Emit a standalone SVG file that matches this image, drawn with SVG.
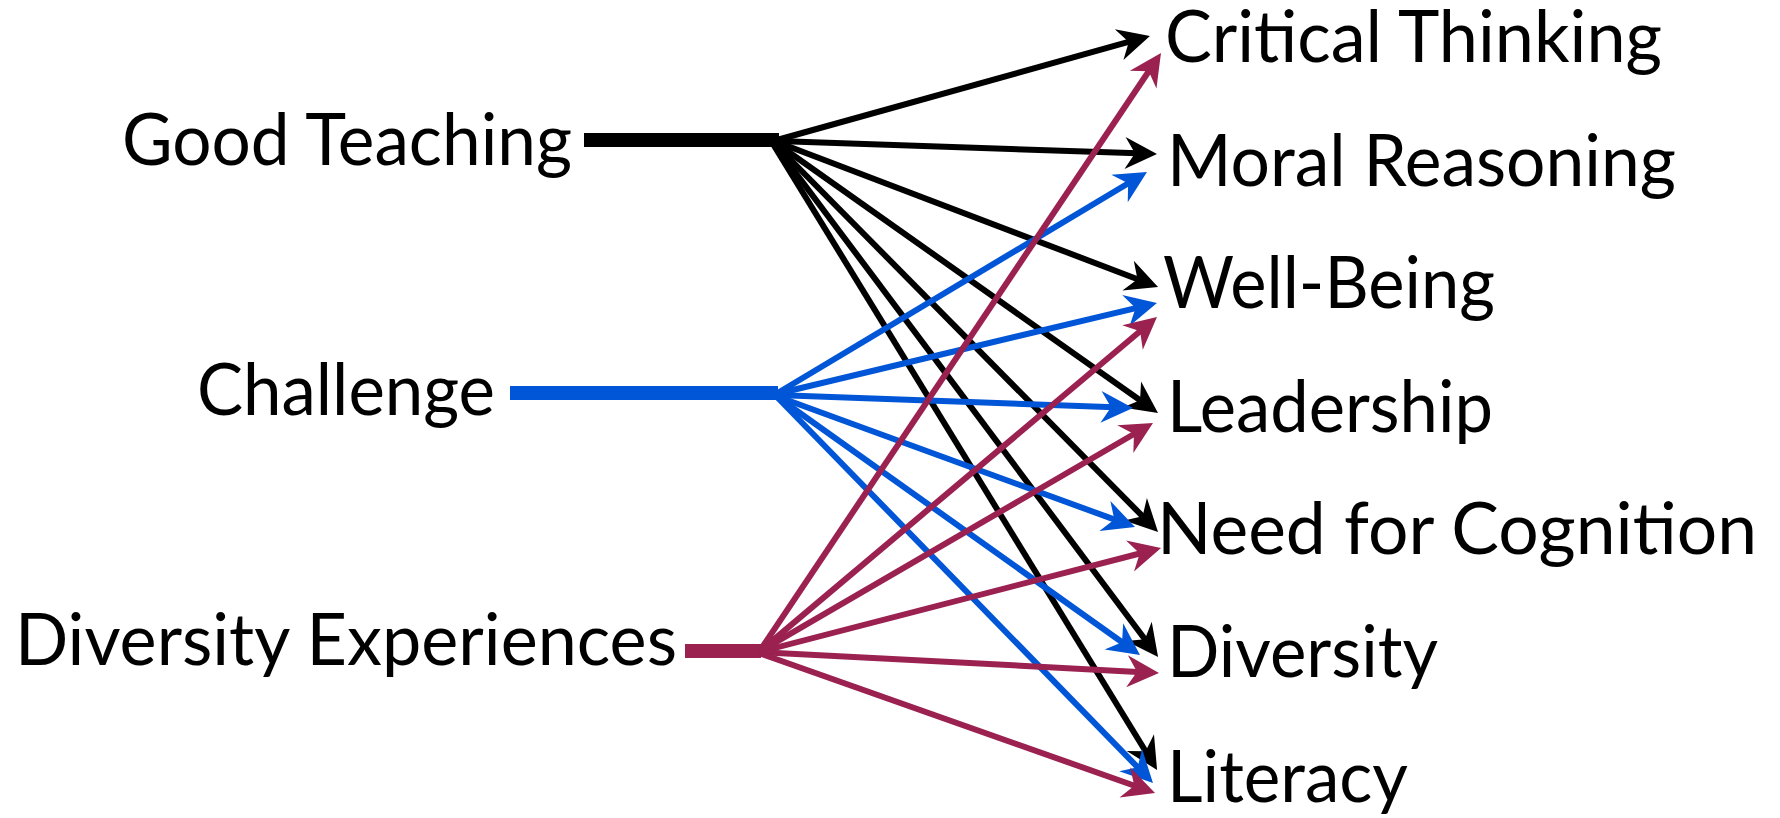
<svg xmlns="http://www.w3.org/2000/svg" width="1780" height="818" viewBox="0 0 1780 818">
<style>
.lbl{font-family:Lato,"Open Sans","Liberation Sans",sans-serif;font-size:71px;fill:#000}
.bar{stroke-width:14;stroke-linecap:butt;fill:none}
.cn{stroke-width:6;fill:none;stroke-linecap:butt}
.k{stroke:#000}
.b{stroke:#0056D6}
.p{stroke:#9A2150}
</style>
<defs>
<marker id="ak" markerUnits="userSpaceOnUse" markerWidth="45" markerHeight="40" viewBox="-25 -20 45 40" refX="0" refY="0" orient="auto"><path d="M12,0 L-20,-16 L-10,0 L-20,16 Z" fill="#000"/></marker>
<marker id="ab" markerUnits="userSpaceOnUse" markerWidth="45" markerHeight="40" viewBox="-25 -20 45 40" refX="0" refY="0" orient="auto"><path d="M12,0 L-20,-16 L-10,0 L-20,16 Z" fill="#0056D6"/></marker>
<marker id="ap" markerUnits="userSpaceOnUse" markerWidth="45" markerHeight="40" viewBox="-25 -20 45 40" refX="0" refY="0" orient="auto"><path d="M12,0 L-20,-16 L-10,0 L-20,16 Z" fill="#9A2150"/></marker>
</defs>

<g id="node-good-teaching">
<text class="lbl" x="122" y="165" textLength="450" lengthAdjust="spacingAndGlyphs">Good Teaching</text>
<line class="bar k" x1="584" y1="140" x2="779" y2="140"/>
</g>
<g id="node-challenge">
<text class="lbl" x="197" y="415" textLength="298" lengthAdjust="spacingAndGlyphs">Challenge</text>
<line class="bar b" x1="510" y1="393" x2="778" y2="393"/>
</g>
<g id="node-diversity-experiences">
<text class="lbl" x="15" y="665" textLength="662" lengthAdjust="spacingAndGlyphs">Diversity Experiences</text>
<line class="bar p" x1="685" y1="651" x2="761" y2="651"/>
</g>

<g id="node-critical-thinking"><text class="lbl" x="1165" y="62" textLength="497" lengthAdjust="spacingAndGlyphs">Critical Thinking</text></g>
<g id="node-moral-reasoning"><text class="lbl" x="1167" y="186" textLength="509" lengthAdjust="spacingAndGlyphs">Moral Reasoning</text></g>
<g id="node-well-being"><text class="lbl" x="1163" y="308" textLength="332" lengthAdjust="spacingAndGlyphs">Well-Being</text></g>
<g id="node-leadership"><text class="lbl" x="1167" y="432" textLength="326" lengthAdjust="spacingAndGlyphs">Leadership</text></g>
<g id="node-need-for-cognition"><text class="lbl" x="1157" y="554" textLength="600" lengthAdjust="spacingAndGlyphs">Need for Cognition</text></g>
<g id="node-diversity"><text class="lbl" x="1167" y="677" textLength="271" lengthAdjust="spacingAndGlyphs">Diversity</text></g>
<g id="node-literacy"><text class="lbl" x="1167" y="802" textLength="241" lengthAdjust="spacingAndGlyphs">Literacy</text></g>

<g id="connectors">
<line class="cn k" x1="777" y1="140" x2="1138.4" y2="39.2" marker-end="url(#ak)"/>
<line class="cn k" x1="777" y1="141" x2="1145.0" y2="153.6" marker-end="url(#ak)"/>
<line class="cn k" x1="777" y1="142" x2="1146.8" y2="282.7" marker-end="url(#ak)"/>
<line class="cn k" x1="776" y1="143" x2="1148.2" y2="406.0" marker-end="url(#ak)"/>
<line class="cn k" x1="775" y1="144" x2="1149.6" y2="523.4" marker-end="url(#ak)"/>
<line class="cn k" x1="774" y1="144" x2="1150.9" y2="647.3" marker-end="url(#ak)"/>
<line class="cn k" x1="773" y1="144" x2="1150.8" y2="759.7" marker-end="url(#ak)"/>

<line class="cn b" x1="776" y1="394" x2="1136.7" y2="178.2" marker-end="url(#ab)"/>
<line class="cn b" x1="776" y1="394" x2="1145.3" y2="305.8" marker-end="url(#ab)"/>
<line class="cn b" x1="776" y1="395" x2="1121.0" y2="407.6" marker-end="url(#ab)"/>
<line class="cn b" x1="776" y1="396" x2="1123.7" y2="522.9" marker-end="url(#ab)"/>
<line class="cn b" x1="776" y1="396" x2="1130.2" y2="648.0" marker-end="url(#ab)"/>
<line class="cn b" x1="776" y1="396" x2="1144.6" y2="774.4" marker-end="url(#ab)"/>

<line class="cn p" x1="759" y1="652" x2="1154.3" y2="63.0" marker-end="url(#ap)"/>
<line class="cn p" x1="759" y1="652" x2="1147.8" y2="324.7" marker-end="url(#ap)"/>
<line class="cn p" x1="759" y1="652" x2="1142.6" y2="429.0" marker-end="url(#ap)"/>
<line class="cn p" x1="759" y1="652" x2="1149.4" y2="551.0" marker-end="url(#ap)"/>
<line class="cn p" x1="759" y1="652" x2="1147.0" y2="672.4" marker-end="url(#ap)"/>
<line class="cn p" x1="759" y1="653" x2="1143.7" y2="789.0" marker-end="url(#ap)"/>
</g>
</svg>
